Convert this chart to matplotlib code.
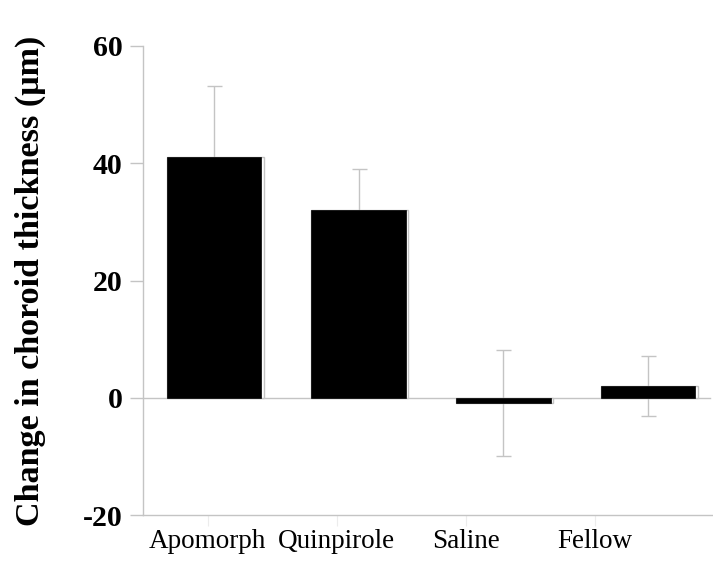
import matplotlib
matplotlib.use("Agg")
import matplotlib.pyplot as plt
import numpy as np

# Data
groups = ["Apomorph", "Quinpirole", "Saline", "Fellow"]
means = [41.1, 32.1, -0.9, 2.0]
errors = [12.0, 6.9, 9.0, 5.1]
yticks = [-20, 0, 20, 40, 60]

plt.rcParams["font.family"] = ["Liberation Serif", "DejaVu Serif"]

fig = plt.figure(figsize=(7.13, 5.71), dpi=100)
ax = fig.add_axes([143 / 713, 56 / 571, 570 / 713, 469 / 571])

x = np.arange(len(groups))
x_left, x_right = -0.49, 3.45
bar_w = 0.655
shadow = 0.016
grey = "#c4c4c4"

# error bars sit behind the bars
ax.errorbar(x, means, yerr=errors, fmt="none", ecolor=grey, elinewidth=1.0,
            capsize=5.4, capthick=1.0, zorder=1)
# light outline box slightly wider on the right, then the solid bar
ax.bar(x - bar_w / 2, means, width=bar_w + shadow, align="edge",
       facecolor="white", edgecolor=grey, linewidth=1.0, zorder=2)
ax.bar(x - bar_w / 2, means, width=bar_w, align="edge",
       facecolor="black", edgecolor="black", linewidth=0.5, zorder=3)

ax.axhline(0, color=grey, linewidth=1.0, zorder=1.5, xmax=0.995)

ax.set_xlim(x_left, x_right)
ax.set_ylim(-20, 60)

# category labels are spread evenly across the axis width
span = x_right - x_left
step = 129 / 570 * span
label_pos = [x_left + (i + 0.5) * step for i in range(len(groups))]
ax.set_xticks(label_pos)
ax.set_xticklabels(groups, fontsize=19.5)
ax.tick_params(axis="x", length=8, color="#ececec", pad=2)

ax.set_yticks(yticks)
ax.set_yticklabels([str(t) for t in yticks], fontsize=21.5, fontweight="bold")
ax.tick_params(axis="y", length=9.5, color=grey, pad=5, width=1.0)

for side in ("top", "right"):
    ax.spines[side].set_visible(False)
for side in ("left", "bottom"):
    ax.spines[side].set_color(grey)
    ax.spines[side].set_linewidth(1.0)

fig.text(0.043, 0.508, "Change in choroid thickness (μm)", rotation=90,
         fontsize=24.6, fontweight="bold", ha="center", va="center")

fig.savefig("out.png", dpi=100)
